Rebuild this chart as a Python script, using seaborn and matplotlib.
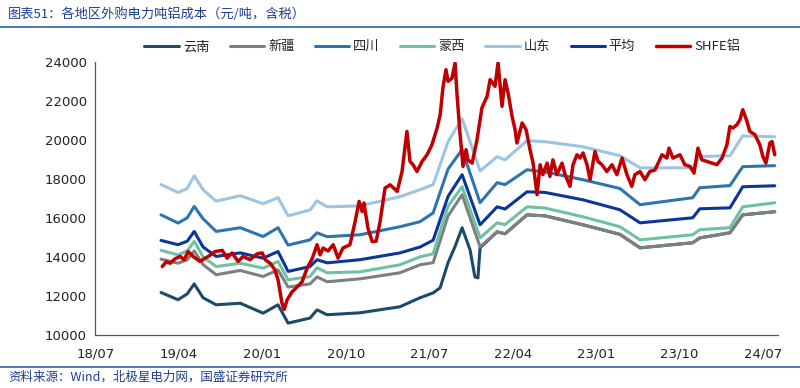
import pandas as pd
import matplotlib
matplotlib.use('Agg')
import matplotlib.pyplot as plt
import seaborn as sns

# regional cost series share the same dates (Yunnan has its own)
region_dates = ['2019-02-02', '2019-03-30', '2019-04-29', '2019-05-22', '2019-06-20',
                '2019-08-02', '2019-10-20', '2020-01-03', '2020-02-21', '2020-03-25',
                '2020-06-05', '2020-06-28', '2020-07-31', '2020-11-16', '2021-03-27',
                '2021-06-01', '2021-07-14', '2021-09-01', '2021-10-17', '2021-12-15',
                '2022-02-09', '2022-03-07', '2022-05-18', '2022-07-16', '2022-11-18',
                '2023-03-19', '2023-05-24', '2023-11-13', '2023-12-06', '2024-03-14',
                '2024-04-25', '2024-08-08']
xinjiang = [13880, 13670, 13850, 14300, 13600, 13080, 13300, 12990, 13330, 12450,
            12610, 12970, 12720, 12870, 13180, 13590, 13700, 16100, 17180, 14510,
            15280, 15180, 16150, 16100, 15640, 15150, 14460, 14720, 14970, 15230,
            16150, 16310]
sichuan = [16150, 15730, 16000, 16580, 15950, 15300, 15490, 15040, 15490, 14600,
           14870, 15230, 15030, 15130, 15540, 15800, 16250, 18500, 19490, 16770,
           17800, 17700, 18460, 18350, 17950, 17500, 16670, 17030, 17540, 17650,
           18620, 18670]
mengxi = [14330, 14100, 14300, 14790, 14000, 13500, 13670, 13420, 13760, 12820,
          12990, 13440, 13180, 13230, 13590, 14000, 14150, 16600, 17590, 14970,
          15740, 15650, 16560, 16500, 16050, 15540, 14870, 15130, 15390, 15490,
          16560, 16770]
shandong = [17700, 17300, 17500, 18150, 17440, 16850, 17130, 16720, 17030, 16100,
            16400, 16870, 16560, 16610, 17080, 17440, 17700, 19900, 21080, 18400,
            19130, 18970, 19950, 19900, 19640, 19180, 18560, 18560, 19140, 19180,
            20200, 20150]
average = [14840, 14620, 14800, 15300, 14500, 14020, 14200, 13930, 14270, 13250,
           13500, 13850, 13690, 13850, 14200, 14500, 14850, 17100, 18210, 15640,
           16560, 16450, 17330, 17300, 16920, 16410, 15740, 16000, 16460, 16510,
           17590, 17640]

yunnan_dates = ['2019-02-02', '2019-03-30', '2019-04-29', '2019-05-22', '2019-06-20',
                '2019-08-02', '2019-10-20', '2020-01-03', '2020-02-21', '2020-03-25',
                '2020-06-05', '2020-06-28', '2020-07-31', '2020-11-16', '2021-03-27',
                '2021-06-01', '2021-07-14', '2021-08-06', '2021-09-01', '2021-09-24',
                '2021-10-17', '2021-11-12', '2021-11-28', '2021-12-08', '2021-12-15',
                '2022-02-09', '2022-03-07', '2022-05-18', '2022-07-16', '2022-11-18',
                '2023-03-19', '2023-05-24', '2023-11-13', '2023-12-06', '2024-03-14',
                '2024-04-25', '2024-08-08']
yunnan = [12170, 11800, 12100, 12610, 11900, 11540, 11620, 11110, 11540, 10600,
          10860, 11280, 11030, 11130, 11440, 11900, 12150, 12410, 13700, 14530,
          15490, 14360, 12970, 12920, 14460,
          15280, 15180, 16150, 16100, 15640, 15150, 14460, 14720, 14970, 15230,
          16150, 16310]

shfe_dates = ['2019-02-06', '2019-02-19', '2019-03-04', '2019-03-20', '2019-04-06',
              '2019-04-19', '2019-05-02', '2019-05-18', '2019-06-10', '2019-06-24',
              '2019-07-07', '2019-07-30', '2019-08-22', '2019-09-07', '2019-09-23',
              '2019-10-13', '2019-10-29', '2019-11-21', '2019-12-14', '2019-12-31',
              '2020-01-10', '2020-01-26', '2020-02-11', '2020-02-21', '2020-03-05',
              '2020-03-12', '2020-03-22', '2020-04-07', '2020-04-24', '2020-05-10',
              '2020-05-26', '2020-06-12', '2020-06-28', '2020-07-08', '2020-07-18',
              '2020-08-03', '2020-08-20', '2020-09-05', '2020-09-21', '2020-10-14',
              '2020-10-31', '2020-11-13', '2020-11-23', '2020-11-29', '2020-12-12',
              '2020-12-26', '2021-01-08', '2021-01-21', '2021-02-06', '2021-02-23',
              '2021-03-18', '2021-04-03', '2021-04-19', '2021-04-29', '2021-05-09',
              '2021-05-22', '2021-06-08', '2021-06-24', '2021-07-10', '2021-07-27',
              '2021-08-06', '2021-08-15', '2021-08-25', '2021-09-01', '2021-09-14',
              '2021-09-24', '2021-09-30', '2021-10-10', '2021-10-20', '2021-10-30',
              '2021-11-05', '2021-11-19', '2021-12-05', '2021-12-21', '2022-01-07',
              '2022-01-17', '2022-02-02', '2022-02-12', '2022-02-25', '2022-03-07',
              '2022-03-17', '2022-03-30', '2022-04-09', '2022-04-15', '2022-05-02',
              '2022-05-15', '2022-05-28', '2022-06-07', '2022-06-20', '2022-06-30',
              '2022-07-09', '2022-07-23', '2022-08-01', '2022-08-11', '2022-08-24',
              '2022-09-10', '2022-09-20', '2022-10-06', '2022-10-16', '2022-10-29',
              '2022-11-08', '2022-11-18', '2022-12-01', '2022-12-11', '2022-12-27',
              '2023-01-06', '2023-01-19', '2023-02-04', '2023-02-21', '2023-03-09',
              '2023-03-26', '2023-04-11', '2023-04-27', '2023-05-07', '2023-05-24',
              '2023-06-09', '2023-06-25', '2023-07-12', '2023-08-04', '2023-08-20',
              '2023-08-27', '2023-09-09', '2023-10-02', '2023-10-18', '2023-11-04',
              '2023-11-17', '2023-11-30', '2023-12-13', '2023-12-29', '2024-01-15',
              '2024-01-31', '2024-02-17', '2024-03-04', '2024-03-14', '2024-03-24',
              '2024-04-06', '2024-04-16', '2024-04-25', '2024-05-09', '2024-05-18',
              '2024-06-04', '2024-06-20', '2024-06-30', '2024-07-10', '2024-07-23',
              '2024-07-30', '2024-08-08']
shfe = [13500, 13750, 13670, 13900, 14020, 13850, 14270, 14020, 13760, 13900,
        14020, 14270, 14330, 13930, 14200, 13760, 14020, 13850, 14150, 14200,
        13850, 13670, 13330, 12820, 11620, 11300, 11800, 12200, 12460, 12720,
        13400, 13900, 14620, 14100, 14450, 14300, 14620, 13930, 14450, 14620,
        15810, 16840, 16320, 16760, 15470, 14780, 14800, 15810, 17520, 17690,
        17350, 18370, 20430, 18890, 18720, 18370, 18890, 19230, 19740, 20600,
        21280, 22650, 23590, 22990, 23160, 23950, 22390, 20340, 18630, 19490,
        18970, 18800, 20000, 21630, 22220, 23080, 22740, 23950, 21710, 23080,
        22390, 21200, 20510, 19830, 20860, 20510, 19490, 18800, 17180, 18720,
        18210, 18800, 18120, 18970, 18210, 18800, 18210, 17610, 18720, 19230,
        19060, 19320, 18720, 17950, 19400, 18890, 18720, 18370, 18720, 18210,
        19060, 18210, 17610, 18210, 18370, 17950, 18370, 18450, 19230, 19060,
        19570, 19060, 19230, 18720, 18630, 18290, 19570, 18970, 18890, 18800,
        18720, 19060, 19740, 20680, 20600, 20770, 21030, 21540, 20940, 20430,
        20260, 19740, 19140, 18800, 19830, 19910, 19230]

tick_labels = ['18/07', '19/04', '20/01', '20/10', '21/07', '22/04', '23/01', '23/10', '24/07']

sns.set_theme(style='white')
plt.rcParams['font.family'] = ['Noto Sans CJK SC', 'DejaVu Sans']
plt.rcParams['axes.unicode_minus'] = False

fig = plt.figure(figsize=(8, 3.88), dpi=100)
ax = fig.add_axes([0.119, 0.137, 0.854, 0.704])

series = [('云南', yunnan_dates, yunnan, '#1b4a6b', 2.2),
          ('新疆', region_dates, xinjiang, '#7f7f7f', 2.2),
          ('四川', region_dates, sichuan, '#2e75b0', 2.2),
          ('蒙西', region_dates, mengxi, '#6fc1a5', 2.2),
          ('山东', region_dates, shandong, '#9cc4e4', 2.2),
          ('平均', region_dates, average, '#0a3697', 2.2),
          ('SHFE铝', shfe_dates, shfe, '#c00000', 2.5)]

for name, d, v, c, lw in series:
    df = pd.DataFrame({'date': pd.to_datetime(d), 'value': v})
    sns.lineplot(data=df, x='date', y='value', ax=ax, color=c, lw=lw, label=name)

ax.set_ylim(10000, 24000)
ax.set_yticks(range(10000, 24001, 2000))
ax.set_xlim(pd.Timestamp('2018-07-01'), pd.Timestamp('2024-08-20'))
ticks = pd.date_range('2018-07-01', '2024-07-01', freq='9MS')
ax.set_xticks(ticks)
ax.set_xticklabels(tick_labels, fontfamily='DejaVu Sans')
for t in ax.get_yticklabels():
    t.set_fontfamily('DejaVu Sans')
ax.tick_params(axis='both', direction='in', length=4, width=0.8, colors='#333333',
               labelsize=9.5, labelcolor='#222222', pad=6)
ax.tick_params(axis='x', pad=9)
ax.set_xlabel('')
ax.set_ylabel('')
sns.despine(ax=ax)
for s in ['left', 'bottom']:
    ax.spines[s].set_color('#555555')
    ax.spines[s].set_linewidth(0.9)

ax.legend(loc='center', bbox_to_anchor=(0.508, 1.055), ncol=7, frameon=False,
          fontsize=9.5, handlelength=2.6, columnspacing=1.55, handletextpad=0.3)

fig.text(0.01, 0.963, '图表51：各地区外购电力吨铝成本（元/吨，含税）', fontsize=9.5,
         color='#1f3f8f', va='center', ha='left')
fig.add_artist(plt.Line2D([0, 1], [0.93, 0.93], color='#2f5fb0', lw=1.2))
fig.add_artist(plt.Line2D([0, 1], [0.055, 0.055], color='#2f5fb0', lw=1.2))
fig.text(0.01, 0.028, '资料来源：Wind，北极星电力网，国盛证券研究所', fontsize=9,
         color='#1f3f8f', va='center', ha='left')

fig.savefig('out.png', dpi=100)
